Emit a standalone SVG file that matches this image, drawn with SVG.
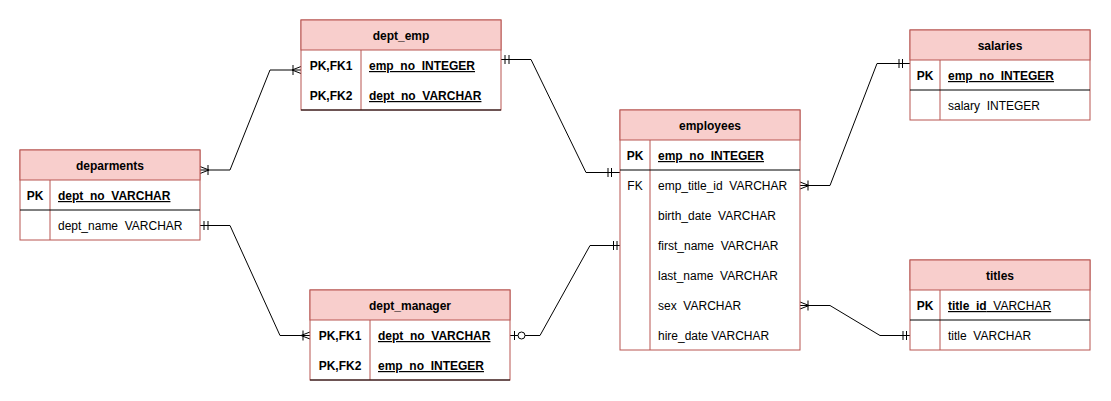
<svg xmlns="http://www.w3.org/2000/svg" width="1111" height="401" viewBox="0 0 1111 401">
<style>
.box{fill:#ffffff;stroke:#b85450;stroke-width:1}
.hdr{fill:#f8cecc;stroke:#b85450;stroke-width:1}
.div{stroke:#b85450;stroke-width:1}
.sep{stroke:#000000;stroke-width:1}
text{font-family:"Liberation Sans",Arial,Helvetica,sans-serif;font-size:12px;fill:#000000;white-space:pre}
.t{font-weight:bold;text-anchor:middle}
.k{font-weight:bold;text-anchor:middle}
.kr{text-anchor:middle}
.pk{font-weight:bold;text-decoration:underline}
.u{text-decoration:underline}
.b{font-weight:bold}
.ln{fill:none;stroke:#000000;stroke-width:1}
.mk{fill:none;stroke:#000000;stroke-width:1}
.circ{fill:#ffffff;stroke:#000000;stroke-width:1}
</style>
<g id="connectors">
  <!-- deparments -> dept_emp -->
  <path class="ln" d="M200,170 L230,170 L270,70 L301,70"/>
  <path class="mk" d="M200,166.5 L209,170 L200,173.5 M208,165 L208,175"/>
  <path class="mk" d="M301,66.5 L292,70 L301,73.5 M293,65 L293,75"/>
  <!-- dept_emp -> employees -->
  <path class="ln" d="M501,59.5 L531,59.5 L586,172.5 L620,172.5"/>
  <path class="mk" d="M505,55 L505,64 M509,55 L509,64"/>
  <path class="mk" d="M608,168 L608,177 M611.5,168 L611.5,177"/>
  <!-- deparments -> dept_manager -->
  <path class="ln" d="M200,225.5 L230,225.5 L280,335.5 L310,335.5"/>
  <path class="mk" d="M204,221 L204,230 M208,221 L208,230"/>
  <path class="mk" d="M310,332 L301,335.5 L310,339 M303,330.5 L303,340.5"/>
  <!-- dept_manager -> employees -->
  <path class="ln" d="M510,335.5 L540,335.5 L590,245.5 L620,245.5"/>
  <path class="mk" d="M514.5,331 L514.5,340"/>
  <circle class="circ" cx="521.5" cy="335.5" r="3.5"/>
  <path class="mk" d="M613.5,241 L613.5,250 M617,241 L617,250"/>
  <!-- employees -> salaries -->
  <path class="ln" d="M800,185.5 L830,185.5 L877,63.5 L910,63.5"/>
  <path class="mk" d="M800,182 L809,185.5 L800,189 M808,180.5 L808,190.5"/>
  <path class="mk" d="M899,59 L899,68 M902.5,59 L902.5,68"/>
  <!-- employees -> titles -->
  <path class="ln" d="M800,305.5 L830,305.5 L880,335.5 L910,335.5"/>
  <path class="mk" d="M800,302 L809,305.5 L800,309 M808,300.5 L808,310.5"/>
  <path class="mk" d="M903,331 L903,340 M906.5,331 L906.5,340"/>
</g>
<g id="dept_emp">
  <rect class="box" x="301" y="20" width="200" height="90"/>
  <rect class="hdr" x="301" y="20" width="200" height="30"/>
  <line class="div" x1="361" y1="50" x2="361" y2="110"/>
  <line class="sep" x1="301" y1="110" x2="501" y2="110"/>
  <text class="t" x="401" y="40">dept_emp</text>
  <text class="k" x="331" y="70">PK,FK1</text>
  <text class="pk" x="369" y="70">emp_no  INTEGER</text>
  <text class="k" x="331" y="100">PK,FK2</text>
  <text class="pk" x="369" y="100">dept_no  VARCHAR</text>
</g>
<g id="deparments">
  <rect class="box" x="20" y="150" width="180" height="90"/>
  <rect class="hdr" x="20" y="150" width="180" height="30"/>
  <line class="div" x1="50" y1="180" x2="50" y2="240"/>
  <line class="sep" x1="20" y1="210" x2="200" y2="210"/>
  <text class="t" x="110" y="170">deparments</text>
  <text class="k" x="35" y="200">PK</text>
  <text class="pk" x="58" y="200">dept_no  VARCHAR</text>
  <text x="58" y="230">dept_name  VARCHAR</text>
</g>
<g id="dept_manager">
  <rect class="box" x="310" y="290" width="200" height="90"/>
  <rect class="hdr" x="310" y="290" width="200" height="30"/>
  <line class="div" x1="370" y1="320" x2="370" y2="380"/>
  <line class="sep" x1="310" y1="380" x2="510" y2="380"/>
  <text class="t" x="410" y="310">dept_manager</text>
  <text class="k" x="340" y="340">PK,FK1</text>
  <text class="pk" x="378" y="340">dept_no  VARCHAR</text>
  <text class="k" x="340" y="370">PK,FK2</text>
  <text class="pk" x="378" y="370">emp_no  INTEGER</text>
</g>
<g id="employees">
  <rect class="box" x="620" y="110" width="180" height="240"/>
  <rect class="hdr" x="620" y="110" width="180" height="30"/>
  <line class="div" x1="650" y1="140" x2="650" y2="350"/>
  <line class="sep" x1="620" y1="170" x2="800" y2="170"/>
  <text class="t" x="710" y="130">employees</text>
  <text class="k" x="635" y="160">PK</text>
  <text class="pk" x="658" y="160">emp_no  INTEGER</text>
  <text class="kr" x="635" y="190">FK</text>
  <text x="658" y="190">emp_title_id  VARCHAR</text>
  <text x="658" y="220">birth_date  VARCHAR</text>
  <text x="658" y="250">first_name  VARCHAR</text>
  <text x="658" y="280">last_name  VARCHAR</text>
  <text x="658" y="310">sex  VARCHAR</text>
  <text x="658" y="340">hire_date VARCHAR</text>
</g>
<g id="salaries">
  <rect class="box" x="910" y="30" width="180" height="90"/>
  <rect class="hdr" x="910" y="30" width="180" height="30"/>
  <line class="div" x1="940" y1="60" x2="940" y2="120"/>
  <line class="sep" x1="910" y1="90" x2="1090" y2="90"/>
  <text class="t" x="1000" y="50">salaries</text>
  <text class="k" x="925" y="80">PK</text>
  <text class="pk" x="948" y="80">emp_no  INTEGER</text>
  <text x="948" y="110">salary  INTEGER</text>
</g>
<g id="titles">
  <rect class="box" x="910" y="260" width="180" height="90"/>
  <rect class="hdr" x="910" y="260" width="180" height="30"/>
  <line class="div" x1="940" y1="290" x2="940" y2="350"/>
  <line class="sep" x1="910" y1="320" x2="1090" y2="320"/>
  <text class="t" x="1000" y="280">titles</text>
  <text class="k" x="925" y="310">PK</text>
  <text class="u" x="948" y="310"><tspan class="b">title_id</tspan>  VARCHAR</text>
  <text x="948" y="340">title  VARCHAR</text>
</g>
</svg>
